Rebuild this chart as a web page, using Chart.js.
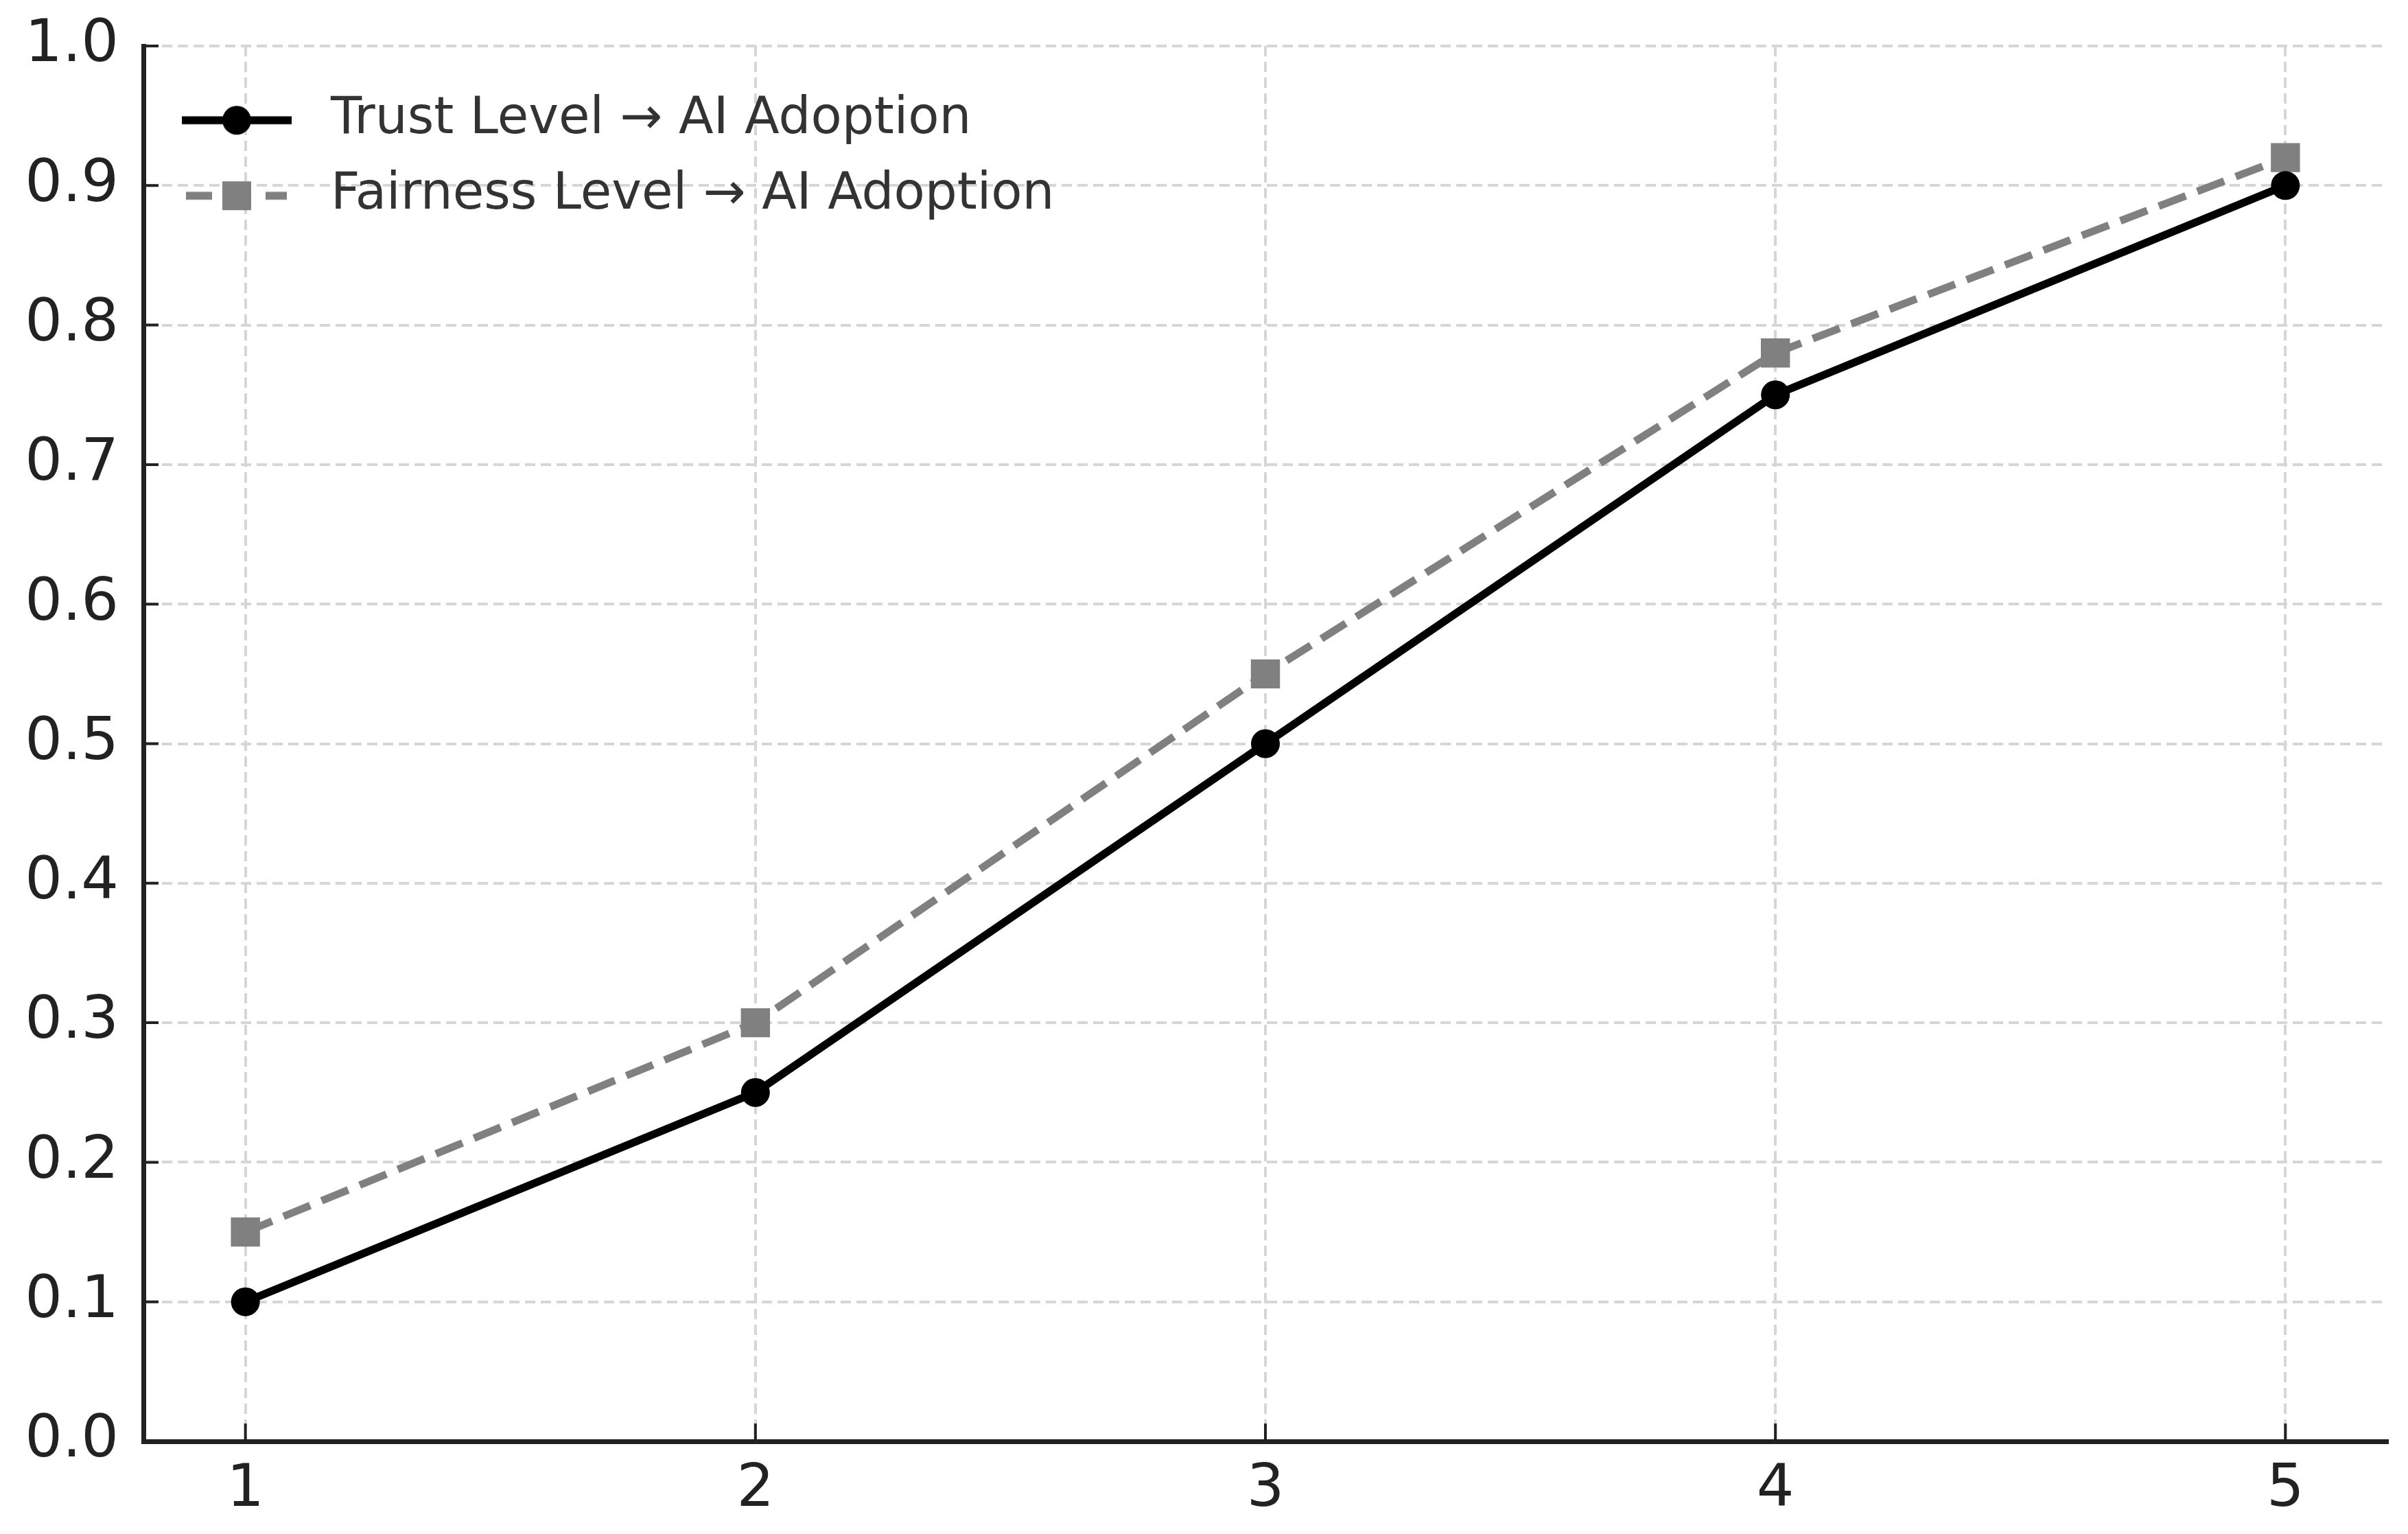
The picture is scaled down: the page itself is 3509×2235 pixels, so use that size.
<!DOCTYPE html>
<html>
<head>
<meta charset="utf-8">
<script src="https://cdn.jsdelivr.net/npm/chart.js@4.4.1/dist/chart.umd.min.js"></script>
<style>
    html, body { margin: 0; padding: 0; background: #fff; }
    canvas { display: block; }
</style>
</head>
<body>
<canvas id="adoption-chart" width="3509" height="2235"></canvas>
<script>
// values
const levels = [1, 2, 3, 4, 5];
const trustAdoption = [0.10, 0.25, 0.50, 0.75, 0.90];
const fairnessAdoption = [0.15, 0.30, 0.55, 0.78, 0.92];
const seriesLabels = ['Trust Level → AI Adoption', 'Fairness Level → AI Adoption'];
const xTickValues = [1, 2, 3, 4, 5];
const yTickValues = [0, 0.1, 0.2, 0.3, 0.4, 0.5, 0.6, 0.7, 0.8, 0.9, 1.0];

const axisColor = '#222';
const gridColor = '#d6d6d6';
const fontFamily = '"DejaVu Sans", sans-serif';

const toPoints = function (values) {
    return levels.map((x, i) => ({ x: x, y: values[i] }));
}

// small line + marker picture, used as the legend point style
const legendSymbol = function (color, dashed, marker) {
    const c = document.createElement('canvas');
    c.width = 160;
    c.height = 46;
    const ctx = c.getContext('2d');
    ctx.strokeStyle = color;
    ctx.fillStyle = color;
    ctx.lineWidth = 11.5;
    ctx.beginPath();
    if (dashed) {
        ctx.moveTo(6, 23); ctx.lineTo(44, 23);
        ctx.moveTo(122, 23); ctx.lineTo(153, 23);
    } else {
        ctx.moveTo(0, 23); ctx.lineTo(160, 23);
    }
    ctx.stroke();
    if (marker === 'circle') {
        ctx.beginPath();
        ctx.arc(80, 23, 21, 0, Math.PI * 2);
        ctx.fill();
    } else {
        ctx.fillRect(59, 2, 42, 42);
    }
    return c;
}

const trustSymbol = legendSymbol('#000', false, 'circle');
const fairnessSymbol = legendSymbol('#808080', true, 'rect');

// matplotlib style ticks pointing into the plot
const innerTicks = {
    id: 'innerTicks',
    afterDatasetsDraw(chart) {
        const { ctx, chartArea, scales } = chart;
        ctx.save();
        ctx.strokeStyle = axisColor;
        ctx.lineWidth = 4;
        ctx.beginPath();
        xTickValues.forEach(v => {
            const px = scales.x.getPixelForValue(v);
            ctx.moveTo(px, chartArea.bottom);
            ctx.lineTo(px, chartArea.bottom - 26);
        });
        yTickValues.forEach(v => {
            const py = scales.y.getPixelForValue(v);
            ctx.moveTo(chartArea.left, py);
            ctx.lineTo(chartArea.left + 22, py);
        });
        ctx.stroke();
        ctx.restore();
    }
}

const initAdoptionChart = function () {
    const el = document.querySelector('#adoption-chart');
    return new Chart(el, {
        type: 'line',
        data: {
            datasets: [{
                label: seriesLabels[0],
                data: toPoints(trustAdoption),
                borderColor: '#000',
                backgroundColor: '#000',
                borderWidth: 11.5,
                pointStyle: 'circle',
                pointRadius: 21,
                pointBorderWidth: 0,
                pointBackgroundColor: '#000',
                legendSymbol: trustSymbol,
                tension: 0,
            }, {
                label: seriesLabels[1],
                data: toPoints(fairnessAdoption),
                borderColor: '#808080',
                backgroundColor: '#808080',
                borderWidth: 11,
                borderDash: [42, 18],
                pointStyle: 'rect',
                pointRadius: 30,
                pointBorderWidth: 0,
                pointBackgroundColor: '#808080',
                legendSymbol: fairnessSymbol,
                tension: 0,
            }]
        },
        options: {
            responsive: false,
            animation: false,
            devicePixelRatio: 1,
            layout: { padding: { left: 0, top: 67, right: 28, bottom: 0 } },
            scales: {
                x: {
                    type: 'linear',
                    min: 0.8,
                    max: 5.2,
                    afterBuildTicks: (scale) => { scale.ticks = xTickValues.map(v => ({ value: v })); },
                    afterFit: (scale) => {
                        scale.height = 135;
                        scale.paddingLeft = 0;
                        scale.paddingRight = 0;
                    },
                    grid: { color: gridColor, lineWidth: 4, drawTicks: false },
                    border: { display: true, color: axisColor, width: 7, dash: [15, 8] },
                    ticks: {
                        color: axisColor,
                        padding: 20,
                        font: { family: fontFamily, size: 86 },
                        callback: (v) => String(v),
                    },
                },
                y: {
                    type: 'linear',
                    min: 0,
                    max: 1,
                    afterBuildTicks: (scale) => { scale.ticks = yTickValues.map(v => ({ value: v })); },
                    afterFit: (scale) => {
                        scale.width = 209;
                        scale.paddingTop = 0;
                        scale.paddingBottom = 0;
                    },
                    grid: { color: gridColor, lineWidth: 4, drawTicks: false },
                    border: { display: true, color: axisColor, width: 7, dash: [15, 8] },
                    ticks: {
                        color: axisColor,
                        padding: 36,
                        font: { family: fontFamily, size: 86 },
                        callback: (v) => Number(v).toFixed(1),
                    },
                },
            },
            plugins: {
                tooltip: { enabled: false },
                legend: {
                    position: 'chartArea',
                    align: 'start',
                    // empty title only pushes the rows down into place
                    title: { display: true, text: ' ', padding: { top: 0, bottom: 101 }, font: { size: 1 } },
                    labels: {
                        usePointStyle: true,
                        pointStyleWidth: 200,
                        padding: 36,
                        color: '#333',
                        font: { family: fontFamily, size: 74 },
                        generateLabels: (chart) => chart.data.datasets.map((ds, i) => ({
                            text: ds.label,
                            pointStyle: ds.legendSymbol,
                            fillStyle: ds.borderColor,
                            strokeStyle: ds.borderColor,
                            lineWidth: 0,
                            hidden: false,
                            datasetIndex: i,
                            fontColor: '#333',
                        })),
                    },
                },
            },
        },
        plugins: [innerTicks],
    });
}

initAdoptionChart();
</script>
</body>
</html>
